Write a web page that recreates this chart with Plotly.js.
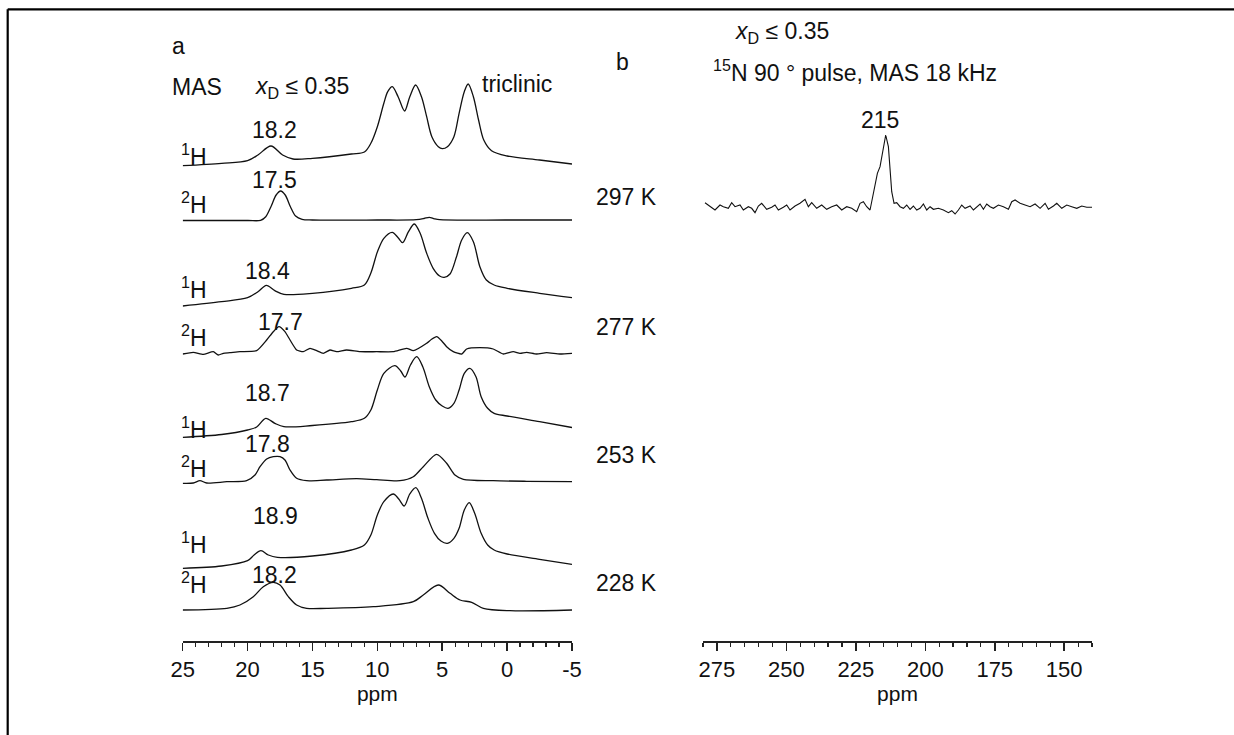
<!DOCTYPE html>
<html>
<head>
<meta charset="utf-8">
<script src="https://cdn.plot.ly/plotly-3.0.1.min.js"></script>
<style>html,body{margin:0;padding:0;background:#fff;}#chart{width:1234px;height:735px;}</style>
</head>
<body>
<div id="chart"></div>
<script>
// ---- Panel a: 1H / 2H MAS spectra (ppm, intensity in arbitrary units) ----
const ppm_H1_297 = [25, 22, 20, 19.2, 18.2, 17.3, 16.5, 15, 12, 11, 10.5, 10, 9.5, 9.2, 8.85, 8.4, 7.9, 7.5, 7.05, 6.6, 6.2, 5.8, 5.3, 5.0, 4.6, 4.1, 3.7, 3.3, 3.0, 2.6, 2.2, 1.8, 1.2, 0, -2.5, -5];
const int_H1_297 = [4.3, 6.7, 9.3, 15, 24, 15, 11, 11.7, 16, 18, 26.7, 43.3, 66.7, 78.3, 83.3, 73.3, 59, 73.3, 85, 73.3, 53.3, 33.3, 23.3, 21.3, 23.3, 33.3, 56.7, 78.3, 86, 73.3, 50, 30, 19.3, 14, 10, 6];

const ppm_H2_297 = [25, 20, 19, 18.6, 18.2, 17.8, 17.45, 17.1, 16.7, 16.3, 15.8, 15, 10, 7, 6.4, 6.0, 5.6, 5.2, 0, -5];
const int_H2_297 = [4.5, 4.5, 4.7, 8.3, 18.3, 30, 34, 30, 18.3, 9, 5.7, 5, 5, 5.3, 6.5, 7.7, 6.2, 5.3, 5, 5];

const ppm_H1_277 = [25, 22, 20, 19.2, 18.55, 17.9, 17.2, 15, 12, 11, 10.5, 10, 9.5, 8.85, 8.4, 8.05, 7.6, 7.15, 6.7, 6.2, 5.7, 5.2, 4.85, 4.4, 3.9, 3.5, 3.07, 2.6, 2.1, 1.6, 1.0, 0, -2.5, -5];
const int_H1_277 = [4, 8.3, 12.3, 18.3, 24.7, 19.3, 15.7, 16.7, 21.7, 25, 37, 58, 71.7, 77.7, 72.3, 67.3, 78.3, 86, 76.7, 56.7, 41.7, 34, 32.7, 36, 53.3, 70, 77.3, 68.3, 43.3, 30, 25, 21.7, 16.7, 12.3];

const ppm_H2_277 = [25, 24.18, 23.41, 22.64, 22.26, 21.87, 21.36, 20.59, 19.3, 18.53, 18.02, 17.58, 17.12, 16.73, 16.22, 15.71, 15.19, 14.68, 14.17, 13.65, 13.14, 12.37, 11.34, 10.05, 8.77, 7.74, 7.23, 6.2, 5.82, 5.43, 5.05, 4.66, 4.15, 3.5, 3.12, 2.1, 1.07, 0.3, -0.47, -0.99, -1.5, -2.27, -3.04, -4.07, -5];
const int_H2_277 = [6, 7.7, 5.7, 8.3, 5, 6.7, 7.3, 8.3, 9.3, 20, 28.3, 33.3, 28.3, 20, 10, 8.3, 11.7, 9.3, 6.7, 10, 8.3, 10, 8.3, 8.3, 8.3, 11.7, 9.3, 16.7, 20.7, 23.3, 19.3, 13.3, 8.3, 6, 11, 12.3, 11, 6, 8.3, 6.7, 7.7, 6, 7.3, 6, 6.7];

const ppm_H1_253 = [25, 22, 20, 19.3, 18.6, 17.9, 17.2, 15, 12, 11, 10.5, 10, 9.5, 8.65, 8.2, 7.87, 7.45, 6.97, 6.5, 6.0, 5.5, 5.0, 4.55, 4.1, 3.7, 3.3, 2.87, 2.4, 2.0, 1.5, 1.0, 0, -2.5, -5];
const int_H1_253 = [7.7, 10.5, 15, 18, 26.7, 21.7, 18.3, 19.5, 23.3, 26.7, 35, 55, 71.7, 79.3, 74, 68, 80, 88.3, 78.3, 58.3, 45, 39, 36.7, 41.7, 55, 71.7, 76.7, 68.3, 48.3, 36.7, 31.7, 29, 23.3, 17.5];

const ppm_H2_253 = [25, 24.18, 23.67, 23.15, 21.6, 20.07, 19.43, 19.04, 18.53, 18.02, 17.5, 17.12, 16.73, 16.22, 15.45, 13.91, 11.6, 10.05, 8.26, 7.23, 6.46, 5.43, 4.66, 4.02, 3.37, 1.07, -1.5, -5];
const int_H2_253 = [6.7, 7, 9.3, 7, 8.3, 9.3, 15, 23.3, 31, 33.3, 33.3, 30, 20, 11.7, 9.3, 10, 11.3, 10.3, 9.3, 13.3, 23.3, 35.7, 26.7, 15, 10.7, 9.3, 8.7, 8.3];

const ppm_H1_228 = [25, 22, 20, 19.5, 18.97, 18.4, 17.7, 15, 12, 11, 10.5, 10, 9.5, 8.77, 8.35, 7.93, 7.5, 7.03, 6.6, 6.1, 5.6, 5.1, 4.6, 4.1, 3.7, 3.3, 2.92, 2.5, 2.0, 1.5, 1.0, 0, -2.5, -5];
const int_H1_228 = [6.7, 9, 14.3, 20, 24.3, 20, 17.7, 19, 25, 30, 40, 60, 73.3, 81, 76, 69, 81, 87.3, 76.7, 56.7, 41.7, 34, 31.7, 36.7, 46.7, 65, 72.3, 61.7, 41.7, 30, 25, 21, 15.7, 10.7];

const ppm_H2_228 = [25, 21.6, 20.59, 19.56, 18.79, 18.02, 17.5, 16.86, 16.22, 15.45, 13.91, 10.31, 7.23, 6.46, 5.3, 4.4, 3.63, 2.73, 1.83, -0.22, -5];
const int_H2_228 = [10, 11.7, 15, 23.3, 33.3, 37.7, 35, 23.3, 15, 11.7, 11.7, 13.3, 18.3, 25, 35, 26.7, 20, 17.7, 11.7, 9.3, 10];

// ---- Panel b: 15N spectrum ----
const ppm_N15 = [279.28, 277.48, 275.68, 273.88, 272.68, 270.88, 269.68, 268.48, 266.68, 265.48, 263.68, 262.48, 261.28, 260.08, 258.88, 257.08, 255.28, 254.08, 252.88, 251.08, 249.88, 248.68, 246.88, 245.08, 243.28, 242.08, 240.88, 239.08, 237.28, 235.48, 233.68, 231.88, 230.08, 228.28, 226.48, 224.68, 223.48, 222.28, 221.08, 219.88, 218.92, 218.08, 217.24, 216.28, 215.32, 214.24, 213.28, 212.68, 212.08, 211.24, 210.28, 209.08, 207.88, 206.68, 205.48, 204.28, 203.08, 201.88, 200.68, 199.48, 198.28, 197.08, 195.28, 193.48, 191.68, 190.48, 189.28, 188.08, 186.88, 185.68, 183.88, 182.68, 181.48, 180.28, 179.08, 177.88, 176.68, 175.48, 173.68, 171.88, 170.08, 168.88, 167.68, 165.88, 164.08, 162.28, 160.48, 158.68, 156.88, 155.68, 153.88, 152.68, 150.88, 149.08, 147.28, 145.48, 143.68, 141.88, 139.72];
const int_N15 = [12.3, 9, 5, 10, 8.3, 6.7, 12.3, 8.3, 10, 5, 8.3, 6.7, 2.3, 9, 11.7, 5.7, 7.7, 10, 5, 7.7, 10, 5, 9, 11.7, 15.7, 8.3, 12.3, 6.7, 10, 5.7, 8.3, 10, 5, 8.3, 6.7, 3.3, 11.7, 13.3, 8.3, 5, 18.3, 28.3, 41.7, 48.3, 65, 80, 68.3, 48.3, 23.3, 11.7, 12.3, 8.3, 6.7, 10, 5.7, 9, 5, 6.7, 11, 5, 8.3, 5.7, 6.7, 5, 2.3, 4.3, 1, 5, 10, 6.7, 9, 5, 8.3, 11, 5.7, 11, 8.3, 6.7, 10, 8.3, 5.7, 13.3, 15, 11.7, 10, 8.3, 11, 6.7, 11.7, 5.7, 9, 11.7, 6.7, 10, 8.3, 6.7, 9, 7.7, 7.7];

const xTicksA = [25, 20, 15, 10, 5, 0, -5];
const xTicksB = [275, 250, 225, 200, 175, 150];

// ---------------- layout helpers ----------------
const W = 1234, H = 735;
const px = x => x / W;
const py = y => 1 - y / H;
const FONT = "Liberation Sans, Arial, Helvetica, sans-serif";
const FS = 23;

const leftSpectra = [
  [ppm_H1_297, int_H1_297, 170, 0.9],
  [ppm_H2_297, int_H2_297, 225, 0.9],
  [ppm_H1_277, int_H1_277, 310, 0.9],
  [ppm_H2_277, int_H2_277, 360, 0.5],
  [ppm_H1_253, int_H1_253, 445, 0.9],
  [ppm_H2_253, int_H2_253, 490, 0.8],
  [ppm_H1_228, int_H1_228, 575, 0.9],
  [ppm_H2_228, int_H2_228, 620, 0.9]
];

const traces = [];
const axisCommon = {
  anchor: 'free', position: py(641),
  showgrid: false, zeroline: false, showline: true, linecolor: '#222', linewidth: 1.5,
  ticks: 'outside', ticklen: 8, tickwidth: 1.5, tickcolor: '#222',
  tickfont: {family: FONT, size: 22, color: '#111'},
  title: {text: 'ppm', font: {family: FONT, size: 21, color: '#111'}, standoff: 2},
  fixedrange: true
};
const layout = {
  width: W, height: H,
  margin: {l: 0, r: 0, t: 0, b: 0},
  paper_bgcolor: '#fff', plot_bgcolor: 'rgba(0,0,0,0)',
  showlegend: false,
  font: {family: FONT, size: FS, color: '#111'},
  xaxis: Object.assign({}, axisCommon, {
    domain: [px(182.7), px(572)], range: [25, -5],
    tickvals: xTicksA, ticktext: xTicksA.map(String),
    minor: {dtick: 1, tick0: 0, ticks: 'outside', ticklen: 4, tickwidth: 1.2, tickcolor: '#222', showgrid: false}
  }),
  xaxis2: Object.assign({}, axisCommon, {
    domain: [px(703), px(1092)], range: [280, 140],
    tickvals: xTicksB, ticktext: xTicksB.map(String),
    minor: {dtick: 5, tick0: 0, ticks: 'outside', ticklen: 4, tickwidth: 1.2, tickcolor: '#222', showgrid: false}
  }),
  annotations: [],
  shapes: [
    {type: 'line', xref: 'paper', yref: 'paper', x0: px(7.7), x1: px(7.7), y0: 0, y1: py(9.3), line: {color: '#000', width: 2.2}},
    {type: 'line', xref: 'paper', yref: 'paper', x0: px(7.7), x1: 1, y0: py(9.3), y1: py(9.3), line: {color: '#000', width: 2.2}}
  ]
};

leftSpectra.forEach((s, i) => {
  const n = i + 1;
  const yname = n === 1 ? 'y' : 'y' + n;
  const key = n === 1 ? 'yaxis' : 'yaxis' + n;
  layout[key] = {domain: [py(s[2]), py(s[2] - 100)], range: [0, 100], visible: false, anchor: 'x', fixedrange: true};
  traces.push({x: s[0], y: s[1], xaxis: 'x', yaxis: yname, mode: 'lines',
    line: {color: '#111', width: 1.3, shape: 'spline', smoothing: s[3]}, hoverinfo: 'skip'});
});
layout.yaxis9 = {domain: [py(215), py(115)], range: [0, 100], visible: false, anchor: 'x2', fixedrange: true};
traces.push({x: ppm_N15, y: int_N15, xaxis: 'x2', yaxis: 'y9', mode: 'lines',
  line: {color: '#111', width: 1.1}, hoverinfo: 'skip'});

const labels = [
  ['a', 178, 46], ['MAS', 197, 87], ['<i>x</i><sub>D</sub> ≤ 0.35', 302, 88], ['triclinic', 517, 84],
  ['18.2', 274, 130], ['<sup>1</sup>H', 194, 155], ['17.5', 274, 180], ['<sup>2</sup>H', 194, 203], ['297 K', 626, 197],
  ['18.4', 267, 271], ['<sup>1</sup>H', 194, 288], ['17.7', 280, 322], ['<sup>2</sup>H', 194, 336], ['277 K', 626, 327],
  ['18.7', 267, 393], ['<sup>1</sup>H', 194, 428], ['17.8', 267, 444], ['<sup>2</sup>H', 194, 467], ['253 K', 626, 455],
  ['18.9', 275, 516], ['<sup>1</sup>H', 194, 543], ['18.2', 274, 575], ['<sup>2</sup>H', 194, 583], ['228 K', 626, 583],
  ['b', 622, 62], ['<i>x</i><sub>D</sub> ≤ 0.35', 782, 32],
  ['<sup>15</sup>N 90 ° pulse, MAS 18 kHz', 855, 71], ['215', 880, 120]
];
labels.forEach(l => layout.annotations.push({
  text: l[0], x: px(l[1]), y: py(l[2]), xref: 'paper', yref: 'paper',
  xanchor: 'center', yanchor: 'middle', showarrow: false,
  font: {family: FONT, size: FS, color: '#111'}
}));

Plotly.newPlot('chart', traces, layout, {displayModeBar: false, staticPlot: true});
</script>
</body>
</html>
